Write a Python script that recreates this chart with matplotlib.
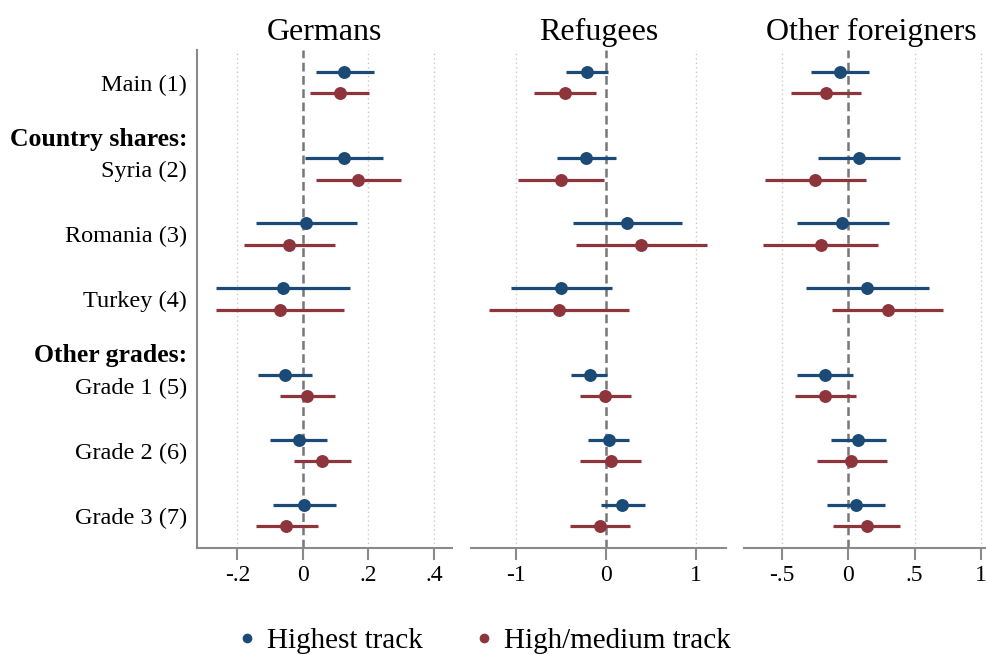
import matplotlib
matplotlib.use("Agg")
import matplotlib.pyplot as plt
from matplotlib.lines import Line2D

plt.rcParams['font.family'] = ['Liberation Serif', 'DejaVu Serif']

# ---- data -------------------------------------------------------------
panel_titles = ["Germans", "Refugees", "Other foreigners"]
series_names = ["Highest track", "High/medium track"]

# (kind, label) in top-to-bottom order
items = [("row", "Main (1)"),
         ("head", "Country shares:"),
         ("row", "Syria (2)"),
         ("row", "Romania (3)"),
         ("row", "Turkey (4)"),
         ("head", "Other grades:"),
         ("row", "Grade 1 (5)"),
         ("row", "Grade 2 (6)"),
         ("row", "Grade 3 (7)")]

# Germans
ger_high_est = [0.127, 0.126, 0.010, -0.060, -0.054, -0.012, 0.004]
ger_high_lo = [0.040, 0.005, -0.144, -0.265, -0.136, -0.101, -0.092]
ger_high_hi = [0.216, 0.246, 0.165, 0.144, 0.029, 0.075, 0.102]
ger_med_est = [0.112, 0.168, -0.042, -0.069, 0.014, 0.059, -0.050]
ger_med_lo = [0.022, 0.040, -0.181, -0.265, -0.071, -0.028, -0.144]
ger_med_hi = [0.203, 0.299, 0.097, 0.124, 0.099, 0.147, 0.045]

# Refugees
ref_high_est = [-0.215, -0.222, 0.237, -0.496, -0.178, 0.030, 0.185]
ref_high_lo = [-0.448, -0.548, -0.363, -1.059, -0.389, -0.200, -0.059]
ref_high_hi = [0.022, 0.111, 0.844, 0.067, 0.015, 0.256, 0.430]
ref_med_est = [-0.459, -0.496, 0.393, -0.522, -0.004, 0.059, -0.063]
ref_med_lo = [-0.800, -0.974, -0.337, -1.296, -0.289, -0.282, -0.396]
ref_med_hi = [-0.115, -0.019, 1.126, 0.252, 0.285, 0.396, 0.270]

# Other foreigners
oth_high_est = [-0.063, 0.081, -0.045, 0.141, -0.173, 0.075, 0.060]
oth_high_lo = [-0.281, -0.231, -0.389, -0.321, -0.384, -0.128, -0.158]
oth_high_hi = [0.158, 0.392, 0.307, 0.606, 0.038, 0.282, 0.279]
oth_med_est = [-0.170, -0.251, -0.208, 0.297, -0.173, 0.023, 0.141]
oth_med_lo = [-0.434, -0.630, -0.641, -0.121, -0.404, -0.238, -0.118]
oth_med_hi = [0.096, 0.131, 0.221, 0.716, 0.060, 0.289, 0.392]

ger_ticks = [-0.2, 0, 0.2, 0.4]
ger_ticklabels = ["-.2", "0", ".2", ".4"]
ref_ticks = [-1, 0, 1]
ref_ticklabels = ["-1", "0", "1"]
oth_ticks = [-0.5, 0, 0.5, 1]
oth_ticklabels = ["-.5", "0", ".5", "1"]

# ---- layout of rows ----------------------------------------------------
row_y = []          # y of the first (highest-track) estimate of each row
label_pos, label_txt, label_bold = [], [], []
y = 0
for kind, lab in items:
    if kind == "row":
        row_y.append(y)
        label_pos.append(y + 0.5)
        label_txt.append(lab)
        label_bold.append(False)
        y += 3
    else:
        label_pos.append(y)
        label_txt.append(lab)
        label_bold.append(True)
        y += 1

BLUE = "#1a4a75"
RED = "#8e343b"
GRID = "#c8c8c8"
AXCOL = "#8a8a8a"

panels = [
    (ger_high_est, ger_high_lo, ger_high_hi, ger_med_est, ger_med_lo, ger_med_hi,
     ger_ticks, ger_ticklabels, (-0.323, 0.455)),
    (ref_high_est, ref_high_lo, ref_high_hi, ref_med_est, ref_med_lo, ref_med_hi,
     ref_ticks, ref_ticklabels, (-1.503, 1.333)),
    (oth_high_est, oth_high_lo, oth_high_hi, oth_med_est, oth_med_lo, oth_med_hi,
     oth_ticks, oth_ticklabels, (-0.784, 1.139)),
]

fig = plt.figure(figsize=(9.87, 6.54), dpi=100)
lefts = [197 / 987, 470.7 / 987, 744.3 / 987]
width = 255 / 987
bottom = 1 - 548 / 654
height = (548 - 50) / 654

for i, (hest, hlo, hhi, mest, mlo, mhi, ticks, tlabels, xl) in enumerate(panels):
    ax = fig.add_axes([lefts[i], bottom, width, height])
    ax.set_xlim(*xl)
    ax.set_ylim(22, -1)

    for t in ticks:
        if t == 0:
            continue
        ax.axvline(t, color=GRID, lw=1.0, ls=(0, (1, 2.2)), zorder=0)
    ax.axvline(0, color="#777777", lw=1.8, ls=(0, (3.5, 1.8)), zorder=1)

    yh = [r for r in row_y]
    ym = [r + 1 for r in row_y]
    ax.hlines(yh, hlo, hhi, color=BLUE, lw=2.3, zorder=2)
    ax.plot(hest, yh, "o", color=BLUE, ms=9.3, mec="none", zorder=3)
    ax.hlines(ym, mlo, mhi, color=RED, lw=2.3, zorder=2)
    ax.plot(mest, ym, "o", color=RED, ms=9.3, mec="none", zorder=3)

    ax.set_xticks(ticks)
    ax.set_xticklabels(tlabels, fontsize=17)
    ax.tick_params(axis="x", length=8.5, width=1.5, color=AXCOL, pad=4)

    for s in ["top", "right"]:
        ax.spines[s].set_visible(False)
    ax.spines["bottom"].set_color(AXCOL)
    ax.spines["bottom"].set_linewidth(1.5)
    if i == 0:
        ax.spines["left"].set_color(AXCOL)
        ax.spines["left"].set_linewidth(1.5)
        ax.set_yticks(label_pos)
        ax.set_yticklabels(label_txt, fontsize=17.5)
        for tl, b in zip(ax.get_yticklabels(), label_bold):
            if b:
                tl.set_fontweight("bold")
                tl.set_fontsize(18.5)
        ax.tick_params(axis="y", length=0, pad=7)
    else:
        ax.spines["left"].set_visible(False)
        ax.set_yticks([])

    ax.set_title(panel_titles[i], fontsize=23, pad=7)

handles = [Line2D([], [], ls="none", marker="o", color=BLUE, ms=7, mec="none"),
           Line2D([], [], ls="none", marker="o", color=RED, ms=7, mec="none")]
fig.legend(handles, series_names, loc="center", bbox_to_anchor=(483 / 987, 1 - 641 / 654),
           ncol=2, frameon=False, fontsize=21, handletextpad=0.3, columnspacing=1.7,
           handlelength=0.8)

fig.savefig("out.png", dpi=100)
